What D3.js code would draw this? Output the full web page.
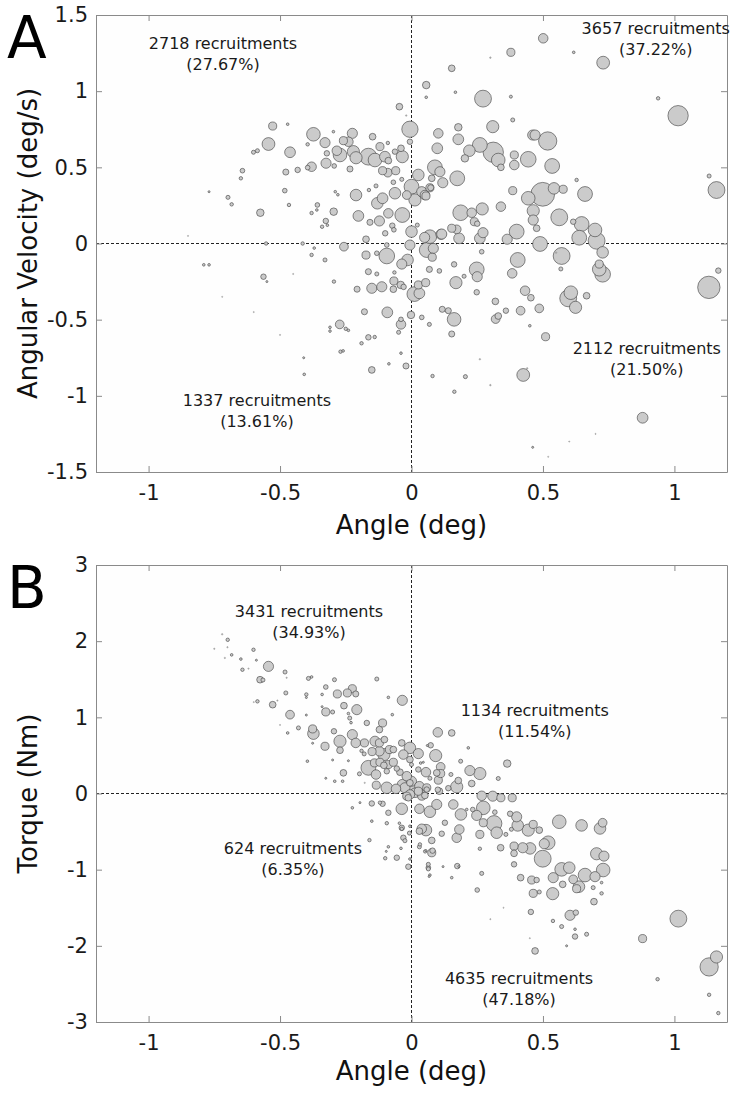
<!DOCTYPE html>
<html>
<head>
<meta charset="utf-8">
<script src="https://cdn.jsdelivr.net/npm/d3@7"></script>
<style>
  html, body { margin: 0; padding: 0; background: #ffffff; }
  svg { display: block; font-family: "DejaVu Sans", "Liberation Sans", Arial, sans-serif; }
</style>
</head>
<body>
<svg id="chart" width="736" height="1101"></svg>
<script>
// ---------------- DATA ----------------
const xTicks = [-1, -0.5, 0, 0.5, 1];
const yTicksA = [-1.5, -1, -0.5, 0, 0.5, 1, 1.5];
const yTicksB = [-3, -2, -1, 0, 1, 2, 3];
const xLabel = "Angle (deg)";
const yLabelA = "Angular Velocity (deg/s)";
const yLabelB = "Torque (Nm)";
const quadLabelsA = [
  ["2718 recruitments", "(27.67%)"],
  ["3657 recruitments", "(37.22%)"],
  ["1337 recruitments", "(13.61%)"],
  ["2112 recruitments", "(21.50%)"]
];
const quadLabelsB = [
  ["3431 recruitments", "(34.93%)"],
  ["1134 recruitments", "(11.54%)"],
  ["624 recruitments", "(6.35%)"],
  ["4635 recruitments", "(47.18%)"]
];

// Panel A: angle (deg), angular velocity (deg/s), marker size
const angleA = [
  0.501,0.378,0.30,0.617,0.729,0.153,0.056,0.056,0.167,0.272,
  0.378,0.938,1.014,-0.046,-0.02,-0.006,-0.006,-0.528,-0.471,-0.373,
  -0.297,-0.225,-0.329,-0.259,-0.24,-0.148,-0.544,-0.462,-0.395,-0.601,
  -0.586,-0.284,-0.272,-0.221,-0.211,-0.164,-0.139,-0.12,-0.101,-0.09,
  -0.063,-0.035,-0.04,-0.088,-0.322,-0.325,-0.294,-0.38,-0.395,-0.433,
  -0.478,-0.643,-0.649,-0.234,-0.11,-0.09,-0.06,0.026,-0.037,-0.069,
  0,0.039,0.07,-0.063,-0.018,0.013,0.051,-0.11,-0.13,-0.211,
  -0.135,-0.162,-0.29,-0.28,-0.482,-0.358,-0.466,-0.698,-0.684,-0.77,
  -0.575,-0.38,-0.36,-0.296,-0.202,-0.088,-0.035,-0.122,-0.158,-0.326,
  -0.34,-0.32,-0.073,-0.067,-0.1,0,0.022,0.07,0.05,0.112,
  0.153,-0.173,-0.257,-0.553,-0.414,-0.37,-0.094,-0.006,0.058,0.083,
  -0.094,-0.173,-0.132,-0.38,-0.329,-0.015,-0.037,0.079,0.162,0.068,
  0.106,-0.164,-0.132,-0.065,-0.79,-0.77,-0.563,-0.55,-0.295,-0.207,
  -0.151,-0.113,-0.067,-0.069,-0.041,-0.03,0.011,0.03,0.026,0.054,
  -0.002,-0.092,-0.179,-0.04,-0.049,0.039,0.068,0.153,0.117,0.14,
  0.162,-0.04,-0.273,-0.31,-0.31,-0.25,-0.24,-0.164,-0.19,-0.14,
  -0.27,-0.26,-0.151,-0.086,-0.021,-0.04,0.08,0.163,0.205,-0.408,
  -0.41,0.102,0.178,0.309,0.385,0.178,0.461,0.47,0.518,0.098,
  0.26,0.22,0.311,0.33,0.34,0.203,0.391,0.391,0.444,0.535,
  0.089,0.108,0.174,0.119,0.077,0.073,0.055,0.385,0.499,0.542,
  0.577,0.628,0.66,0.444,0.463,0.463,0.476,0.562,0.34,0.269,
  0.187,0.229,0.239,0.25,0.647,0.615,0.698,0.704,0.638,0.727,
  0.4,0.364,0.489,0.571,0.568,0.404,0.383,0.714,0.714,0.727,
  0.172,0.181,0.26,0.272,0.115,0.248,0.25,0.267,0.2,0.169,
  1.167,1.16,1.132,1.131,0.432,0.248,0.319,0.32,0.33,0.359,
  0.415,0.454,0.45,0.486,0.51,0.596,0.606,0.624,0.666,0.425,
  0.879,0.461,0.30,0.26,0.44,0.55,-0.72,-0.6,-0.5,-0.45,
  -0.85,0.6,0.7,0.52
];
const velA = [
  1.347,1.255,1.22,1.255,1.187,1.15,1.04,0.96,0.993,0.951,
  0.964,0.953,0.839,0.898,0.84,0.75,0.668,0.771,0.783,0.717,
  0.734,0.723,0.662,0.675,0.668,0.701,0.653,0.599,0.651,0.599,
  0.609,0.609,0.581,0.603,0.563,0.57,0.548,0.636,0.57,0.66,
  0.603,0.57,0.625,0.544,0.592,0.527,0.509,0.504,0.498,0.483,
  0.469,0.478,0.428,0.489,0.478,0.465,0.478,0.45,0.421,0.402,
  0.373,0.34,0.366,0.33,0.318,0.286,0.318,0.297,0.264,0.318,
  0.378,0.351,0.34,0.32,0.347,0.253,0.253,0.303,0.257,0.34,
  0.202,0.2,0.22,0.209,0.181,0.198,0.187,0.148,0.139,0.148,
  0.11,0.12,0.117,0.09,0.067,0.078,0.121,0.045,0.04,0.06,
  0.1,0.028,-0.021,0,0,-0.03,-0.01,-0.01,-0.043,-0.032,
  -0.082,-0.076,-0.064,-0.075,-0.108,-0.108,-0.135,-0.09,-0.137,-0.17,
  -0.18,-0.185,-0.2,-0.19,-0.14,-0.14,-0.218,-0.25,-0.25,-0.3,
  -0.294,-0.284,-0.246,-0.3,-0.272,-0.285,-0.332,-0.327,-0.272,-0.257,
  -0.469,-0.452,-0.448,-0.531,-0.583,-0.485,-0.531,-0.594,-0.432,-0.441,
  -0.498,-0.498,-0.531,-0.55,-0.575,-0.56,-0.57,-0.616,-0.655,-0.614,
  -0.71,-0.705,-0.83,-0.79,-0.804,-0.72,-0.87,-0.973,-0.874,-0.859,
  -0.75,0.723,0.763,0.767,0.811,0.684,0.712,0.712,0.673,0.625,
  0.647,0.609,0.599,0.548,0.5,0.559,0.581,0.515,0.553,0.509,
  0.5,0.471,0.428,0.399,0.428,0.366,0.312,0.347,0.323,0.362,
  0.356,0.417,0.325,0.297,0.215,0.154,0.1,0.172,0.242,0.227,
  0.202,0.202,0.143,0.13,0.128,0.143,0.089,0.018,0.038,-0.058,
  0.078,0.028,-0.003,-0.082,-0.167,-0.108,-0.196,-0.135,-0.169,-0.202,
  0.093,0.034,0.034,0.071,0.062,-0.17,-0.218,-0.054,-0.215,-0.257,
  -0.178,0.351,0.443,-0.288,-0.31,-0.32,-0.38,-0.496,-0.476,-0.441,
  -0.441,-0.356,-0.54,-0.426,-0.612,-0.36,-0.323,-0.419,-0.343,-0.863,
  -1.144,-1.338,-0.93,-0.76,-0.82,-0.06,-0.35,-0.45,-0.6,-0.2,
  0.05,-1.3,-1.25,-1.4
];
const sizeA = [
  4.7,4,0.8,1.3,6.3,3.3,3.7,1.3,1.3,8.3,
  1.5,1.7,10,3.3,0.8,8,2.7,4,1.3,6.7,
  1.3,5,5,4,4.7,3.3,6.3,5.3,1.7,2,
  2,4.7,6.7,6,6,8.3,6.7,4,5.3,1.7,
  2.7,6,3.3,3.3,2.7,5,2.3,4.7,2.3,2.7,
  3,2.3,1.7,3,4,4.3,4,5.7,2,2.3,
  7.3,5,4,5.7,4.3,6,4.7,5.3,5.7,5.7,
  2,1.7,1.3,1.3,2.3,2.3,1.7,2,1.7,1,
  3.7,1.7,1.3,3.7,5.3,4.7,7.3,5,3,2.7,
  1.7,1.3,2.7,2.3,2.7,5.7,2,6.7,5,5,
  4,3.3,4.3,1.7,1.7,1.3,2.3,5,7.3,5,
  7.7,4,2.3,1.7,2,5.7,5,4,2.7,3,
  2.3,3,2,1.7,1.3,1.3,2.7,1,1.7,3,
  5,5,4,3.3,3.7,2.7,7.3,5.3,4,4,
  3.7,5.3,3,4.7,2,2.3,2,3,3,3,
  6.7,2.3,4.3,1.3,1.3,1.7,1.3,2.7,1.7,1.7,
  1.7,1.3,3.3,1.3,3,1.3,1.7,1.7,2,1.3,
  1,4.7,3.7,6,2,5.3,5,5,9,5.3,
  7.3,5.7,10,6.7,3.3,3.7,4,4.7,7.7,7.3,
  7.3,5,7.3,5,3.3,3,4,4,11.7,5.7,
  4,1.7,7.3,6.7,6,5,3.3,8.3,4.7,6,
  7.7,4.7,4,2.7,7.3,2.7,6.7,8.3,7.3,5.7,
  7.3,5,7.3,8.3,2,7.3,4.7,4,6.7,7.7,
  4.3,5.3,5.3,5,5,7.3,5,2.3,2,6,
  2.7,8.3,2,11,4.7,2.7,3.3,4.3,3.3,2.7,
  4.3,3.3,1.3,4.3,4,8.3,6.7,6,3.3,6.3,
  5.3,1,0.8,0.8,0.8,0.8,0.6,0.6,0.6,0.6,
  0.6,0.6,0.6,0.6
];

// Panel B: angle (deg), torque (Nm), marker size
const angleB = [
  -0.699,-0.72,-0.75,-0.7,-0.684,-0.71,-0.649,-0.601,-0.59,-0.544,
  -0.643,-0.62,-0.481,-0.475,-0.576,-0.565,-0.392,-0.38,-0.293,-0.132,
  -0.326,-0.225,-0.244,-0.212,-0.282,-0.4,-0.4,-0.478,-0.34,-0.035,
  -0.088,-0.586,-0.528,-0.51,-0.257,-0.208,-0.326,-0.3,-0.462,-0.4,
  -0.34,-0.24,-0.235,-0.23,-0.073,-0.17,-0.11,-0.376,-0.373,-0.43,
  -0.471,-0.295,-0.225,-0.122,-0.272,-0.212,-0.179,-0.139,-0.329,-0.272,
  -0.376,-0.19,-0.18,-0.15,-0.122,-0.103,-0.084,-0.122,-0.105,-0.037,
  -0.069,-0.006,-0.141,-0.12,-0.088,-0.069,-0.105,-0.164,-0.135,-0.094,
  -0.056,-0.044,-0.018,0.026,0,-0.094,-0.134,-0.059,-0.035,0,
  0.026,0.058,-0.006,-0.259,-0.262,-0.292,-0.326,-0.3,-0.396,-0.178,
  -0.24,0.096,0.07,0.1,0.153,0.073,0.06,-0.006,0.026,-0.031,
  0.092,0.216,0.187,0.364,0.111,0.035,0.045,0.055,0.222,0.26,
  0.15,0.33,0.102,0.178,0.172,0.229,0.14,0.1,0,-0.025,
  0.03,0.013,0.039,0.267,0.309,0.34,0.383,0.026,-0.018,0.051,
  0.111,0.106,-0.037,0.03,0.07,0.096,0.159,0.188,0.233,0.21,
  0.273,0.248,0.314,0.273,0.324,0.317,0.375,0.4,0.404,0.444,
  0.463,0.486,0.359,0.38,0.562,0.647,0.727,0.717,0.055,0.039,
  0.077,0.115,0.127,0.172,0.182,0.26,0.26,0.339,0.39,0.39,
  0.423,0.451,0.499,0.52,0.505,0.571,0.6,0.539,0.575,0.615,
  0.637,0.628,0.66,0.698,0.729,0.704,0.732,0.691,0.723,0.723,
  0.694,0.537,0.415,0.457,0.476,0.463,0.486,0.39,0.454,0.603,
  0.625,0.571,0.622,0.666,0.622,0.538,0.47,0.59,0.25,0.174,
  0.153,0.267,0.12,0.18,0.064,0.07,-0.012,0.077,0.08,0.032,
  0.055,-0.031,-0.025,-0.037,1.015,0.879,1.16,1.132,0.936,1.132,
  1.167,-0.198,-0.006,0.058,-0.151,-0.11,-0.12,-0.088,-0.012,-0.151,
  -0.094,-0.046,-0.037,-0.006,-0.008,0.03,-0.225,-0.196,-0.16,-0.04,
  -0.088,-0.096,-0.1,-0.056,0.03,0.052,0.064,0.064,0.067,-0.006,
  -0.6,-0.5,0.35,0.3,0.45
];
const torqueB = [
  2.018,2.09,1.9,1.92,1.82,1.78,1.765,1.887,1.75,1.669,
  1.625,1.64,1.595,1.52,1.494,1.49,1.511,1.53,1.494,1.503,
  1.398,1.376,1.32,1.307,1.307,1.3,1.26,1.32,1.3,1.223,
  1.262,1.21,1.166,1.22,1.153,1.101,1.071,1.07,1.035,1.03,
  1.14,1.05,0.99,0.93,1.035,0.926,0.926,0.848,0.786,0.861,
  0.795,0.817,0.773,0.839,0.686,0.664,0.664,0.686,0.62,0.568,
  0.66,0.56,0.52,0.55,0.664,0.708,0.577,0.555,0.511,0.664,
  0.577,0.446,0.402,0.41,0.38,0.41,0.37,0.337,0.249,0.292,
  0.328,0.28,0.227,0.315,0.38,0.075,0.109,0.061,0.118,0.075,
  0.017,0.075,0.14,0.271,0.161,0.161,0.2,0.44,0.424,0.14,
  0.43,0.271,0.2,0.803,0.795,0.633,0.63,0.599,0.524,0.511,
  0.498,0.599,0.424,0.393,0.35,0.4,0.41,0.28,0.301,0.262,
  0.25,0.197,0.175,0.17,0.088,0.131,0.07,0.05,0.161,0.075,
  0.096,0.009,-0.035,-0.03,-0.035,-0.056,-0.056,0.03,-0.035,-0.026,
  0.262,0.03,-0.201,-0.201,-0.24,-0.144,-0.144,-0.275,-0.21,-0.21,
  -0.188,-0.288,-0.393,-0.384,-0.515,-0.245,-0.266,-0.306,-0.419,-0.481,
  -0.406,-0.481,-0.537,-0.47,-0.371,-0.419,-0.384,-0.459,-0.481,-0.463,
  -0.616,-0.528,-0.384,-0.581,-0.472,-0.537,-0.725,-0.712,-0.69,-0.786,
  -0.712,-0.721,-0.856,-0.646,-0.66,-0.996,-0.974,-1.105,-1.193,-1.127,
  -1.223,-1.25,-1.071,-1.092,-1.005,-0.791,-0.822,-1.236,-1.311,-1.17,
  -1.42,-1.315,-1.105,-1.136,-1.136,-1.311,-1.293,-0.93,-1.555,-1.599,
  -1.564,-1.747,-1.782,-1.848,-1.878,-1.673,-2.067,-2.0,-1.267,-0.953,
  -1.105,-1.049,-0.96,-0.96,-0.974,-1.071,-0.961,-0.778,-0.75,-0.668,
  -0.75,-0.581,-0.62,-0.464,-1.643,-1.905,-2.146,-2.277,-2.438,-2.643,
  -2.883,0.258,-0.013,0.052,-0.131,-0.135,-0.12,-0.253,-0.056,-0.363,
  -0.39,-0.39,-0.45,-0.43,-0.52,-0.494,-0.188,-0.12,-0.612,-0.72,
  -0.7,-0.76,-0.85,-0.843,-0.7,-0.76,-0.93,-0.99,-1.09,-0.86,
  1.2,0.9,-1.5,-1.65,-1.9
];
const sizeB = [
  1.7,0.8,0.7,0.7,1.3,0.7,1.3,1.7,1,5,
  1.7,0.7,2,0.7,3.3,2,2,1.3,2,2,
  2.3,4,4,3,4,1.7,1,2,1.3,5,
  1.3,1.7,3.3,0.7,3.3,5,4,2,4.3,1,
  1,1.3,2,1.3,1.3,2.7,4,4,5.7,2,
  1.3,2.7,5,3.3,6,4.7,4,5,4,3.3,
  1,1.7,2,4,4,3.3,4,4.7,6,3.3,
  3.3,3.3,4,4,4,4,3.3,7.3,4.7,2.7,
  2.7,3.3,4.7,2.7,2,5.7,4,4.7,5,6.7,
  4.7,4,3.3,3.3,1.3,1.3,1,1,1.3,0.7,
  1,3.3,2,4.7,3.3,2.7,1,5.7,5,4.7,
  6,1.3,2,3.7,4.3,1.3,1,4.7,5,6,
  2,2,4,3.3,6,3.3,2.7,2.7,5,5,
  4.7,4.7,4,4.7,5,4,4,4,4,3.3,
  4,3.3,5.7,4.7,5.7,5,4.7,5.7,2.3,1.3,
  6.7,5,7.7,4,5.7,2.3,2.7,5,5.7,6,
  4,3.3,2,2,6.7,5.7,4.3,5.7,5.7,4.7,
  3.3,2.7,2.7,4.7,4.7,4,1.7,3.3,4,3.3,
  5,5.7,8.3,6.7,5,6.7,5.7,5,3.3,4.3,
  5.7,4,6.7,5,6.7,6,5,2,1.7,1.3,
  3.3,6,3.3,4,2.7,4,2,2.7,2.7,5,
  2.7,2,1.3,2,2.7,1.7,3.3,1,2.3,2.7,
  1.3,2,1,1,2.3,1.3,2.7,4,2.7,1.7,
  1,2.7,2,1.7,8.3,4,6,9,1.7,1.7,
  1.7,2,4.7,2.7,2.7,2.7,1.7,2.7,3.3,1.3,
  1.7,1.3,2.7,1.3,2,3.3,1.3,1,1.7,1.3,
  1.3,1,1.7,2.7,2,1.7,2,2,1,1.3,
  0.6,0.6,0.6,0.6,0.6
];

// ---------------- DRAWING ----------------
const svg = d3.select("#chart");
const FONT = '"DejaVu Sans", "Liberation Sans", Arial, sans-serif';

const x = d3.scaleLinear().domain([-1.2, 1.2]).range([96, 727]);
const rScale = d3.scaleLinear().domain([0, 12]).range([0, 12.2]);

function drawPanel(cfg) {
  const y = d3.scaleLinear().domain(cfg.yDomain).range([cfg.bottom, cfg.top]);
  const g = svg.append("g");

  g.append("rect").attr("x", x.range()[0]).attr("y", cfg.top)
    .attr("width", x.range()[1] - x.range()[0]).attr("height", cfg.bottom - cfg.top)
    .attr("fill", "#fefefe");

  // zero lines
  g.append("line").attr("x1", x(0)).attr("x2", x(0)).attr("y1", cfg.top).attr("y2", cfg.bottom)
    .attr("stroke", "#222").attr("stroke-width", 1).attr("stroke-dasharray", "3,2");
  g.append("line").attr("x1", x.range()[0]).attr("x2", x.range()[1]).attr("y1", y(0)).attr("y2", y(0))
    .attr("stroke", "#222").attr("stroke-width", 1).attr("stroke-dasharray", "3,2");

  // points
  const pts = cfg.xs.map((v, i) => ({ x: v, y: cfg.ys[i], s: cfg.ss[i] }))
    .sort((a, b) => b.s - a.s);
  g.append("g").selectAll("circle").data(pts).join("circle")
    .attr("cx", d => x(d.x)).attr("cy", d => y(d.y))
    .attr("r", d => rScale(d.s))
    .attr("fill", d => d.s < 1 ? "#b0b0b0" : "#cbcbcb")
    .attr("stroke", d => d.s < 1 ? "#8a8a8a" : "#3c3c3c")
    .attr("stroke-width", d => d.s < 1 ? 0.4 : 0.6);

  // axes (inward ticks on all four sides)
  const bottomAxis = d3.axisBottom(x).tickValues(xTicks).tickSize(-6).tickSizeOuter(0)
    .tickPadding(13).tickFormat(d => String(d));
  const topAxis = d3.axisTop(x).tickValues(xTicks).tickSize(-6).tickSizeOuter(0).tickFormat("");
  const leftAxis = d3.axisLeft(y).tickValues(cfg.yTicks).tickSize(-6).tickSizeOuter(0)
    .tickPadding(8).tickFormat(d => String(d));
  const rightAxis = d3.axisRight(y).tickValues(cfg.yTicks).tickSize(-6).tickSizeOuter(0).tickFormat("");

  const ax = [
    g.append("g").attr("transform", `translate(0,${cfg.bottom})`).call(bottomAxis),
    g.append("g").attr("transform", `translate(0,${cfg.top})`).call(topAxis),
    g.append("g").attr("transform", `translate(${x.range()[0]},0)`).call(leftAxis),
    g.append("g").attr("transform", `translate(${x.range()[1]},0)`).call(rightAxis)
  ];
  ax.forEach(a => {
    a.selectAll("text").style("font-family", FONT).style("font-size", "21px").attr("fill", "#1a1a1a");
    a.select(".domain").attr("stroke", "#8a8a8a");
    a.selectAll(".tick line").attr("stroke", "#8a8a8a");
  });

  // axis titles
  g.append("text").attr("x", x(0)).attr("y", cfg.bottom + cfg.xTitleOffset)
    .attr("text-anchor", "middle").style("font-size", "26px").attr("fill", "#111")
    .text(xLabel);
  g.append("text")
    .attr("transform", `translate(${cfg.yTitleX},${(cfg.top + cfg.bottom) / 2}) rotate(-90)`)
    .attr("text-anchor", "middle").style("font-size", "26px").attr("fill", "#111")
    .text(cfg.yLabel);

  // panel letter
  g.append("text").attr("x", 7).attr("y", cfg.letterY)
    .style("font-size", "58px").attr("fill", "#000").text(cfg.letter);

  // quadrant annotations
  cfg.quad.forEach((lines, i) => {
    const pos = cfg.quadPos[i];
    const t = g.append("text").attr("text-anchor", "middle")
      .style("font-size", "16px").attr("fill", "#1a1a1a");
    t.append("tspan").attr("x", x(pos[0])).attr("y", y(pos[1])).text(lines[0]);
    t.append("tspan").attr("x", x(pos[0])).attr("y", y(pos[1])).attr("dy", 21).text(lines[1]);
  });
}

drawPanel({
  top: 15, bottom: 472, yDomain: [-1.5, 1.5], yTicks: yTicksA,
  xs: angleA, ys: velA, ss: sizeA,
  yLabel: yLabelA, letter: "A", letterY: 58, yTitleX: 37, xTitleOffset: 62,
  quad: quadLabelsA,
  quadPos: [[-0.717, 1.277], [0.929, 1.376], [-0.588, -1.067], [0.895, -0.724]]
});

drawPanel({
  top: 565, bottom: 1022, yDomain: [-3, 3], yTicks: yTicksB,
  xs: angleB, ys: torqueB, ss: sizeB,
  yLabel: yLabelB, letter: "B", letterY: 608, yTitleX: 37, xTitleOffset: 58,
  quad: quadLabelsB,
  quadPos: [[-0.39, 2.315], [0.469, 1.02], [-0.451, -0.8], [0.409, -2.495]]
});
</script>
</body>
</html>
